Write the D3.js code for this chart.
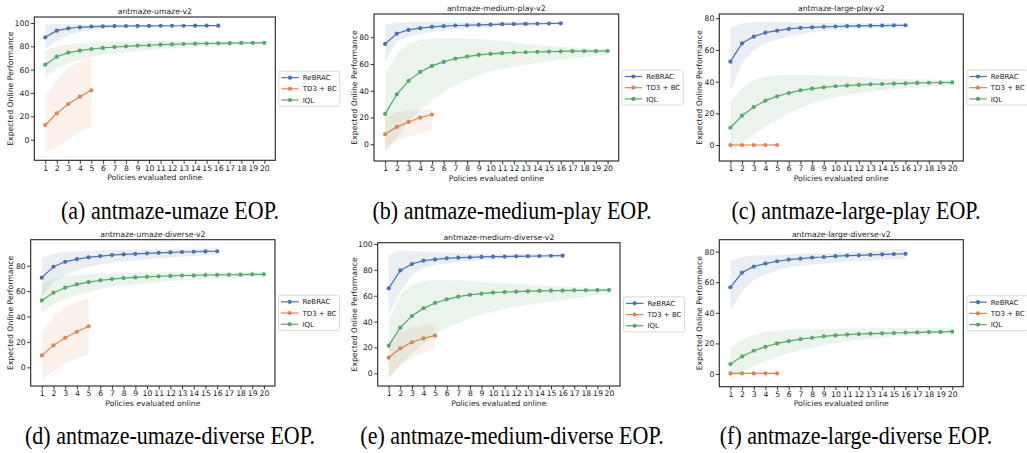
<!DOCTYPE html>
<html><head><meta charset="utf-8">
<script src="https://cdn.jsdelivr.net/npm/d3@7"></script>
<style>body{margin:0;background:#fff}svg{display:block}</style>
</head><body>
<svg id="chart" width="1027" height="453"></svg>
<script>
// ---------- data ----------
const policies = [1,2,3,4,5,6,7,8,9,10,11,12,13,14,15,16,17,18,19,20];
const seriesNames = ["ReBRAC", "TD3 + BC", "IQL"];
const seriesColors = ["#4c72b0", "#dd8452", "#55a868"];
const titles = ["antmaze-umaze-v2","antmaze-medium-play-v2","antmaze-large-play-v2","antmaze-umaze-diverse-v2","antmaze-medium-diverse-v2","antmaze-large-diverse-v2"];
const captions = ["(a) antmaze-umaze EOP.","(b) antmaze-medium-play EOP.","(c) antmaze-large-play EOP.","(d) antmaze-umaze-diverse EOP.","(e) antmaze-medium-diverse EOP.","(f) antmaze-large-diverse EOP."];
const yTicksA = [0,20,40,60,80,100];
const yTicksB = [0,20,40,60,80];
const yTicksC = [0,20,40,60,80];
const yTicksD = [0,20,40,60,80];
const yTicksE = [0,20,40,60,80,100];
const yTicksF = [0,20,40,60,80];
const xLabel = "Policies evaluated online";
const yLabel = "Expected Online Performance";

// (a) umaze
const umazeRebrac   = [87.7,93.4,95.4,96.3,96.9,97.1,97.3,97.4,97.5,97.5,97.6,97.6,97.6,97.7,97.7,97.7];
const umazeRebracLo = [78.3,84.5,89.5,92.0,93.8,94.8,95.5,96.0,96.3,96.6,96.8,97.0,97.1,97.2,97.3,97.4];
const umazeRebracHi = [98.3,99.0,99.0,98.9,98.8,98.7,98.6,98.5,98.4,98.3,98.3,98.2,98.2,98.1,98.1,98.0];
const umazeTd3      = [12.6,22.6,30.6,36.9,42.3];
const umazeTd3Lo    = [-11.1,-6.0,0.3,7.0,11.7];
const umazeTd3Hi    = [37.7,51.0,61.0,67.0,70.3];
const umazeIql      = [64.3,71.1,74.6,76.3,77.7,78.6,79.4,80.0,80.6,80.9,81.4,81.7,82.0,82.3,82.4,82.6,82.7,82.9,82.9,83.0];
const umazeIqlLo    = [54.0,61.0,65.5,68.5,70.8,72.5,73.9,75.0,76.0,76.8,77.5,78.1,78.7,79.2,79.7,80.1,80.5,80.9,81.3,81.7];
const umazeIqlHi    = [76.3,79.8,81.6,82.6,83.3,83.7,84.0,84.2,84.4,84.5,84.6,84.6,84.6,84.6,84.6,84.5,84.5,84.4,84.4,84.3];

// (b) medium-play
const mplayRebrac   = [75.0,82.8,85.5,86.8,87.8,88.3,88.8,89.0,89.3,89.5,89.8,89.9,90.0,90.1,90.3,90.4];
const mplayRebracLo = [61.8,76.8,80.5,82.5,84.0,85.2,86.0,86.7,87.3,87.7,88.1,88.4,88.7,88.9,89.1,89.3];
const mplayRebracHi = [89.3,91.0,91.3,91.4,91.4,91.4,91.4,91.4,91.4,91.4,91.4,91.4,91.4,91.4,91.4,91.3];
const mplayTd3      = [7.5,13.0,16.7,20.0,22.2];
const mplayTd3Lo    = [-5.5,2.0,5.7,8.5,10.7];
const mplayTd3Hi    = [19.5,24.0,25.5,26.0,26.4];
const mplayIql      = [22.7,37.4,47.4,54.1,58.6,61.6,64.1,65.6,66.8,67.6,68.2,68.6,68.8,69.1,69.3,69.5,69.6,69.7,69.7,69.8];
const mplayIqlLo    = [-4.2,5.0,17.0,25.7,33.0,39.4,44.0,48.0,51.5,54.4,56.3,58.0,59.5,60.8,62.0,63.0,64.0,65.0,66.0,66.8];
const mplayIqlHi    = [51.9,68.0,75.5,78.0,79.3,79.5,79.5,79.3,78.7,78.0,77.0,76.0,75.2,74.3,73.5,72.9,72.3,71.8,71.4,71.0];

// (c) large-play
const lplayRebrac   = [52.6,64.2,68.4,70.9,72.2,73.3,73.9,74.3,74.6,74.8,75.1,75.2,75.3,75.4,75.5,75.6];
const lplayRebracLo = [33.7,51.6,60.0,64.2,66.6,68.4,69.9,71.2,72.0,72.6,73.0,73.4,73.7,73.9,74.0,74.1];
const lplayRebracHi = [73.7,76.8,77.5,77.6,77.6,77.5,77.4,77.3,77.2,77.1,77.0,77.0,76.9,76.9,76.8,76.8];
const lplayTd3      = [0,0,0,0,0];
const lplayTd3Lo    = [-0.4,-0.4,-0.4,-0.4,-0.4];
const lplayTd3Hi    = [0.4,0.4,0.4,0.4,0.4];
const lplayIql      = [10.9,18.5,24.0,28.0,30.7,32.8,34.5,35.6,36.4,37.1,37.5,37.9,38.3,38.5,38.7,38.9,39.2,39.3,39.4,39.5];
const lplayIqlLo    = [-4.6,1.0,6.3,11.6,15.8,20.0,23.4,26.3,28.4,30.1,31.5,32.6,33.6,34.5,35.2,35.8,36.3,36.8,37.2,37.5];
const lplayIqlHi    = [27.4,35.8,41.0,43.2,44.0,44.2,44.2,44.0,43.8,43.6,43.2,42.7,42.5,42.2,41.9,41.7,41.5,41.3,41.1,41.0];

// (d) umaze-diverse
const udivRebrac    = [70.6,79.2,83.1,85.2,86.6,87.6,88.4,88.9,89.4,89.8,90.2,90.5,90.8,91.0,91.3,91.4];
const udivRebracLo  = [55.6,67.4,72.7,76.5,79.2,80.9,82.1,83.1,84.0,84.9,85.7,86.4,87.1,87.7,88.3,88.9];
const udivRebracHi  = [86.3,89.7,91.0,91.3,91.5,91.8,92.0,92.3,92.5,92.7,92.9,93.1,93.2,93.4,93.5,93.6];
const udivTd3       = [9.4,17.3,23.3,28.0,32.3];
const udivTd3Lo     = [-9.2,-3.4,2.4,7.1,9.7];
const udivTd3Hi     = [28.0,39.9,47.7,51.7,54.3];
const udivIql       = [52.7,58.8,62.7,65.3,67.1,68.5,69.5,70.3,70.8,71.3,71.7,72.0,72.3,72.4,72.7,72.8,72.9,73.0,73.2,73.3];
const udivIqlLo     = [42.5,49.0,53.8,57.0,59.5,61.4,63.0,64.3,65.3,66.2,67.1,67.9,68.5,69.0,69.5,70.0,70.4,70.8,71.0,71.3];
const udivIqlHi     = [64.8,70.0,72.1,73.0,73.4,73.8,74.2,74.5,74.6,74.7,74.8,74.8,74.8,74.8,74.8,74.8,74.8,74.8,74.8,74.8];

// (e) medium-diverse
const mdivRebrac    = [65.7,79.6,84.5,87.1,88.1,88.9,89.4,89.7,90.0,90.2,90.3,90.5,90.6,90.7,90.9,91.0];
const mdivRebracLo  = [45.1,63.1,76.0,81.2,83.5,85.0,86.0,86.8,87.5,88.0,88.4,88.7,88.9,89.1,89.3,89.4];
const mdivRebracHi  = [91.5,95.1,94.6,94.0,93.6,93.3,93.0,92.7,92.4,92.2,92.1,92.0,92.0,92.0,92.0,92.0];
const mdivTd3       = [12.1,19.3,24.0,27.1,29.1];
const mdivTd3Lo     = [-3.9,6.4,11.6,15.5,19.3];
const mdivTd3Hi     = [24.5,32.2,36.1,37.4,38.1];
const mdivIql       = [21.4,35.3,44.3,50.3,54.4,57.2,59.3,60.6,61.6,62.4,62.9,63.1,63.5,63.8,63.9,64.0,64.2,64.2,64.3,64.4];
const mdivIqlLo     = [-3.9,6.4,15.5,23.2,29.6,34.8,39.0,42.5,45.3,47.7,49.7,51.5,53.0,54.3,55.4,56.5,57.6,59.0,60.5,61.9];
const mdivIqlHi     = [41.2,60.6,68.3,71.4,72.2,72.2,71.9,71.4,70.9,70.4,69.8,69.1,68.6,68.0,67.5,67.1,66.8,66.4,66.0,65.7];

// (f) large-diverse
const ldivRebrac    = [56.7,66.3,70.2,72.2,73.7,74.8,75.4,76.1,76.5,77.0,77.4,77.6,77.9,78.2,78.4,78.6];
const ldivRebracLo  = [41.3,53.9,61.5,65.2,67.7,69.6,70.7,71.6,72.3,72.8,73.3,73.7,74.1,74.5,74.9,75.2];
const ldivRebracHi  = [73.9,76.7,77.4,77.7,78.0,78.3,78.6,78.8,79.0,79.3,79.6,80.0,80.4,80.9,81.5,82.2];
const ldivTd3       = [0.4,0.4,0.4,0.4,0.4];
const ldivTd3Lo     = [0.0,0.0,0.0,0.0,0.0];
const ldivTd3Hi     = [0.8,0.8,0.8,0.8,0.8];
const ldivIql       = [6.5,11.5,15.2,17.8,20.0,21.5,22.8,23.7,24.6,25.2,25.7,26.1,26.4,26.6,26.8,27.1,27.2,27.4,27.5,27.7];
const ldivIqlLo     = [-2.6,0.7,5.0,8.3,10.9,13.7,15.5,17.0,18.7,20.2,21.4,22.4,23.0,23.6,24.6,25.0,25.3,25.6,25.9,26.1];
const ldivIqlHi     = [17.0,22.4,25.7,27.4,28.3,28.9,29.1,29.3,29.5,29.6,29.7,29.8,29.9,29.9,30.0,30.0,30.1,30.1,30.2,30.2];

// table built from the arrays
const panelData = [
  {yTicks: yTicksA, series: [[umazeRebrac,umazeRebracLo,umazeRebracHi],[umazeTd3,umazeTd3Lo,umazeTd3Hi],[umazeIql,umazeIqlLo,umazeIqlHi]]},
  {yTicks: yTicksB, series: [[mplayRebrac,mplayRebracLo,mplayRebracHi],[mplayTd3,mplayTd3Lo,mplayTd3Hi],[mplayIql,mplayIqlLo,mplayIqlHi]]},
  {yTicks: yTicksC, series: [[lplayRebrac,lplayRebracLo,lplayRebracHi],[lplayTd3,lplayTd3Lo,lplayTd3Hi],[lplayIql,lplayIqlLo,lplayIqlHi]]},
  {yTicks: yTicksD, series: [[udivRebrac,udivRebracLo,udivRebracHi],[udivTd3,udivTd3Lo,udivTd3Hi],[udivIql,udivIqlLo,udivIqlHi]]},
  {yTicks: yTicksE, series: [[mdivRebrac,mdivRebracLo,mdivRebracHi],[mdivTd3,mdivTd3Lo,mdivTd3Hi],[mdivIql,mdivIqlLo,mdivIqlHi]]},
  {yTicks: yTicksF, series: [[ldivRebrac,ldivRebracLo,ldivRebracHi],[ldivTd3,ldivTd3Lo,ldivTd3Hi],[ldivIql,ldivIqlLo,ldivIqlHi]]}
];

// ---------- layout (positions / styles) ----------
const layout = [
  {l:34.3, r:275.3, t:17,    b:160.3, yDom:[-17.6,105.1], capX:170, capY:219},
  {l:374,  r:618.7, t:14,    b:161,   yDom:[-12.5,97.4],  capX:512, capY:219},
  {l:719.3,r:963.3, t:14,    b:161,   yDom:[-10.1,82.7],  capX:856, capY:219},
  {l:30.7, r:275,   t:239.7, b:386,   yDom:[-14.7,100.5], capX:170, capY:444},
  {l:377.7,r:620,   t:242.7, b:386,   yDom:[-9.8,101],    capX:512, capY:444},
  {l:719.3,r:963.3, t:239.7, b:386.7, yDom:[-8.3,87.8],   capX:856, capY:444}
];
const FS = 7.7;
const LFS = 7.0;
const FONT = "'DejaVu Sans', sans-serif";

const svg = d3.select("#chart");

panelData.forEach((pd, pi) => {
  const L = layout[pi];
  const xs = d3.scaleLinear().domain([0.05, 20.95]).range([L.l, L.r]);
  const ys = d3.scaleLinear().domain(L.yDom).range([L.b, L.t]);
  const g = svg.append("g");

  // bands + lines
  pd.series.forEach((s, si) => {
    const [mean, lo, hi] = s;
    const pts = mean.map((v, k) => ({x: policies[k], y: v, lo: lo[k], hi: hi[k]}));
    const col = seriesColors[si];
    g.append("path").datum(pts)
      .attr("d", d3.area().x(d => xs(d.x)).y0(d => ys(d.lo)).y1(d => ys(d.hi)))
      .attr("fill", col).attr("fill-opacity", 0.12).attr("stroke", "none");
    g.append("path").datum(pts)
      .attr("d", d3.line().x(d => xs(d.x)).y(d => ys(d.y)))
      .attr("fill", "none").attr("stroke", col).attr("stroke-width", 1.2);
    g.selectAll(null).data(pts).enter().append("circle")
      .attr("cx", d => xs(d.x)).attr("cy", d => ys(d.y)).attr("r", 2.1)
      .attr("fill", col);
  });

  // axes
  const xAxis = g.append("g").attr("transform", `translate(0,${L.b})`)
    .call(d3.axisBottom(xs).tickValues(policies).tickFormat(d3.format("d")).tickSize(3.5).tickPadding(1.5));
  const yAxis = g.append("g").attr("transform", `translate(${L.l},0)`)
    .call(d3.axisLeft(ys).tickValues(pd.yTicks).tickFormat(d3.format("d")).tickSize(3.5).tickPadding(1.5));
  [xAxis, yAxis].forEach(a => {
    a.select(".domain").remove();
    a.selectAll("line").attr("stroke", "#222").attr("stroke-width", 0.9);
    a.selectAll("text").attr("font-family", FONT).attr("font-size", FS).attr("fill", "#222");
  });

  // frame
  g.append("rect").attr("x", L.l).attr("y", L.t).attr("width", L.r - L.l).attr("height", L.b - L.t)
    .attr("fill", "none").attr("stroke", "#222").attr("stroke-width", 1.1);

  // title
  g.append("text").attr("x", (L.l + L.r) / 2).attr("y", L.t - 3)
    .attr("text-anchor", "middle").attr("font-family", FONT).attr("font-size", FS).attr("fill", "#222")
    .text(titles[pi]);
  // x label
  g.append("text").attr("x", (L.l + L.r) / 2).attr("y", L.b + 19.5)
    .attr("text-anchor", "middle").attr("font-family", FONT).attr("font-size", FS).attr("fill", "#222")
    .text(xLabel);
  // y label
  const maxTick = d3.max(pd.yTicks);
  const ylx = L.l - (maxTick >= 100 ? 21 : 17.5);
  g.append("text").attr("transform", `translate(${ylx},${(L.t + L.b) / 2}) rotate(-90)`)
    .attr("text-anchor", "middle").attr("font-family", FONT).attr("font-size", FS).attr("fill", "#222")
    .text(yLabel);

  // legend
  const lw = 61, lh = 35;
  const lx = L.r + 3, ly = (L.t + L.b) / 2 - lh / 2;
  const lg = g.append("g").attr("transform", `translate(${lx},${ly})`);
  lg.append("rect").attr("x", 0.5).attr("width", lw).attr("height", lh).attr("rx", 2)
    .attr("fill", "#fff").attr("fill-opacity", 0.85).attr("stroke", "#d0d0d0").attr("stroke-width", 0.8);
  seriesNames.forEach((nm, si) => {
    const yy = 6.5 + si * 11.2;
    lg.append("line").attr("x1", 3).attr("x2", 20.5).attr("y1", yy).attr("y2", yy)
      .attr("stroke", seriesColors[si]).attr("stroke-width", 1.2);
    lg.append("circle").attr("cx", 11.7).attr("cy", yy).attr("r", 2.1).attr("fill", seriesColors[si]);
    lg.append("text").attr("x", 24.5).attr("y", yy + 2.6)
      .attr("font-family", FONT).attr("font-size", LFS).attr("fill", "#222").text(nm);
  });

  // caption
  svg.append("text").attr("transform", `translate(${L.capX},${L.capY}) scale(1,1.1)`)
    .attr("text-anchor", "middle")
    .attr("font-family", "'Liberation Serif', 'Times New Roman', serif").attr("font-size", 22)
    .attr("fill", "#000").text(captions[pi]);
});
</script>
</body></html>
